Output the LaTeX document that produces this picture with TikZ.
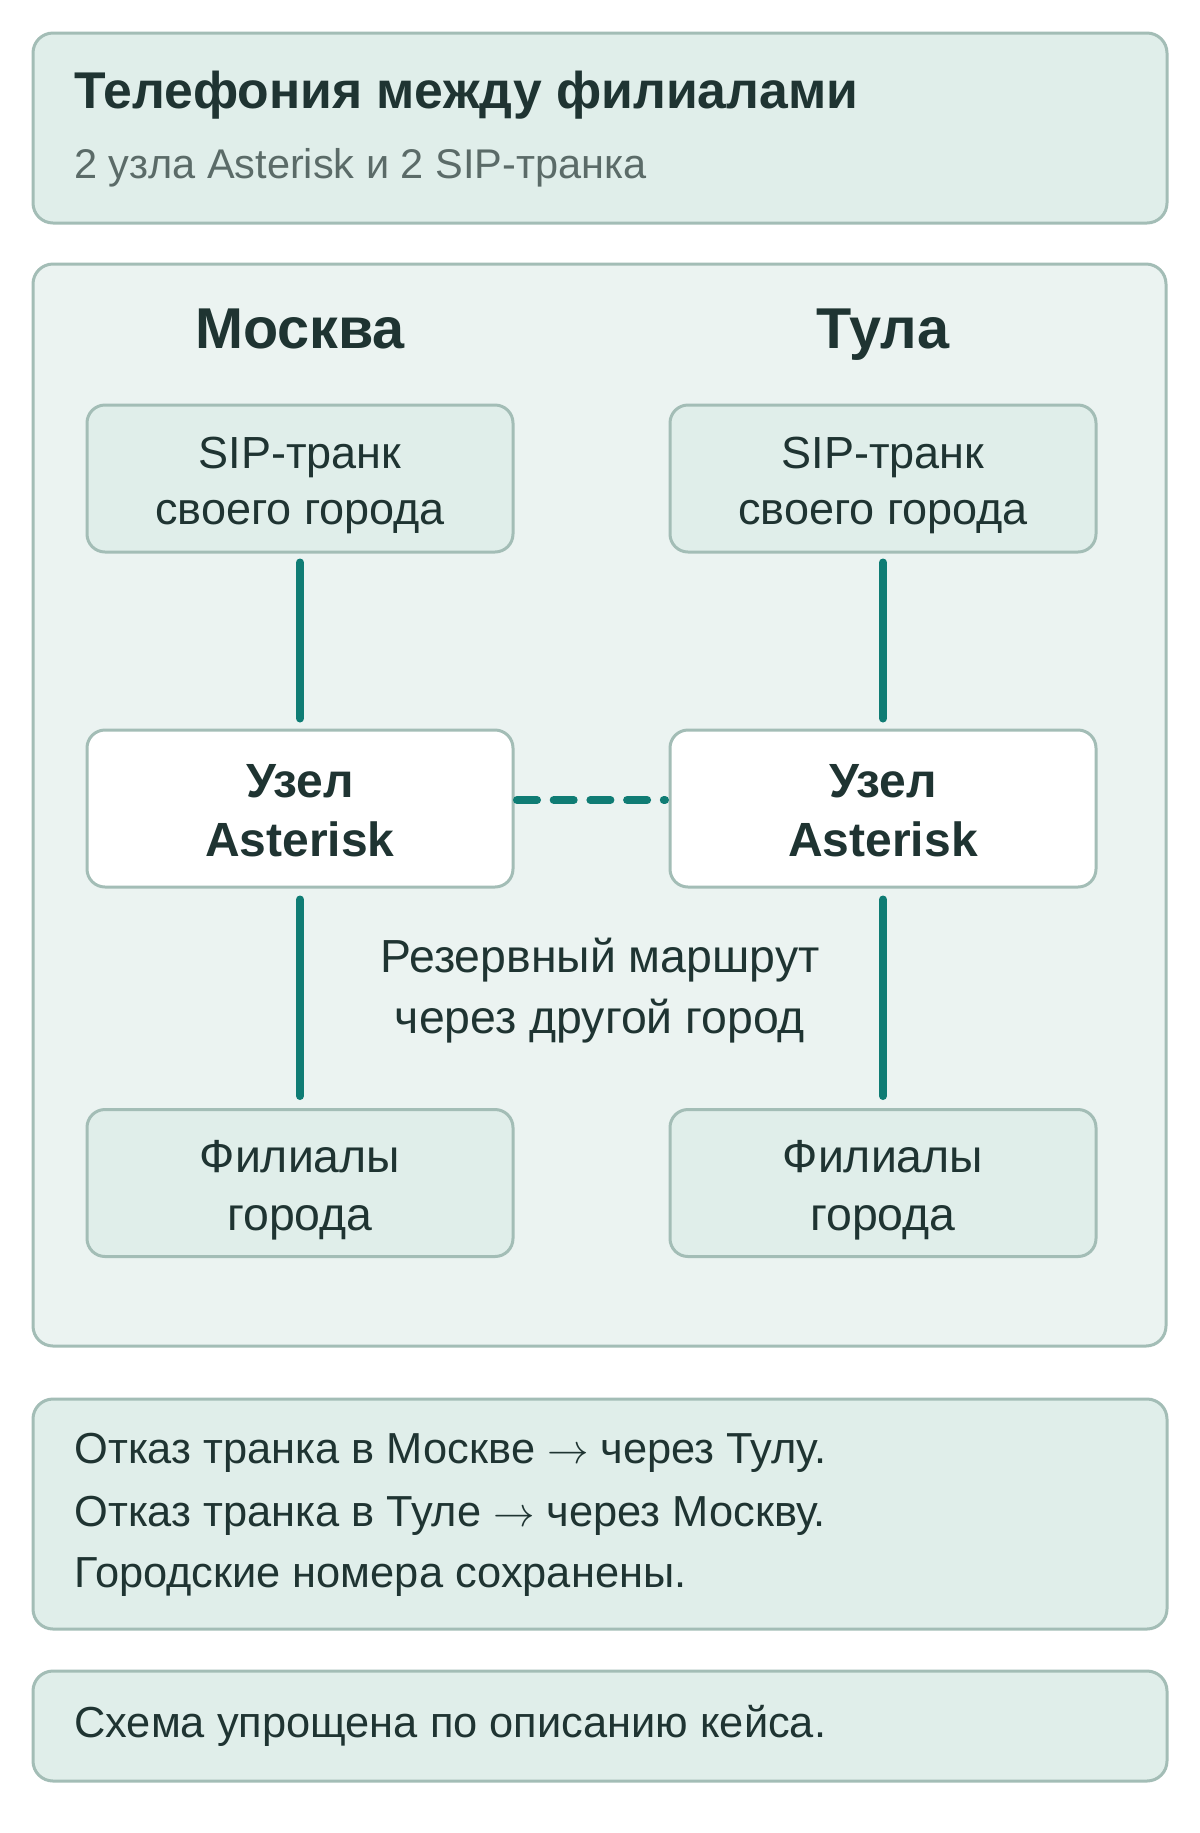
\documentclass[tikz,border=0pt]{standalone}
\usepackage{fontspec}
\setmainfont{Liberation Sans}
\definecolor{outerfill}{HTML}{EBF3F1}
\definecolor{boxfill}{HTML}{E0EEEA}
\definecolor{boxline}{HTML}{A3BDB6}
\definecolor{ink}{HTML}{1F3432}
\definecolor{subink}{HTML}{5B6B68}
\definecolor{teal}{HTML}{0F7C74}
\begin{document}
\begin{tikzpicture}[x=0.5pt,y=-0.5pt,
  panel/.style={draw=boxline, line width=1.5pt, rounded corners=10pt, fill=boxfill},
  bigpanel/.style={draw=boxline, line width=1.5pt, rounded corners=10pt, fill=outerfill},
  cardbox/.style={draw=boxline, line width=1.5pt, rounded corners=9pt, fill=boxfill, minimum width=213pt, minimum height=73.5pt, inner sep=0pt},
  hubbox/.style={draw=boxline, line width=1.5pt, rounded corners=9pt, fill=white, minimum width=213pt, minimum height=78.5pt, inner sep=0pt},
  txt/.style={inner sep=0pt, anchor=base, text=ink, font=\fontsize{22.5pt}{26pt}\selectfont},
  wtxt/.style={inner sep=0pt, anchor=base, text=ink, font=\fontsize{23.2pt}{27pt}\selectfont},
  hubtxt/.style={inner sep=0pt, anchor=base, text=ink, font=\fontsize{24pt}{28pt}\selectfont\bfseries},
  city/.style={inner sep=0pt, anchor=base, text=ink, font=\fontsize{28.8pt}{34pt}\selectfont\bfseries},
  ltxt/.style={inner sep=0pt, anchor=base west, text=ink, font=\fontsize{21.7pt}{26pt}\selectfont},
  link/.style={draw=teal, line width=4pt, line cap=round},
  backup/.style={draw=teal, line width=4pt, line cap=round, dash pattern=on 10pt off 8.35pt}
]
\path[use as bounding box, fill=white] (0,0) rectangle (1200,1833);

% header panel
\path[panel] (33,33) rectangle (1167,223);
\node[inner sep=0pt, anchor=base west, text=ink, font=\fontsize{25.85pt}{30pt}\selectfont\bfseries] (title) at (74,108) {Телефония между филиалами};
\node[inner sep=0pt, anchor=base west, text=subink, font=\fontsize{20.75pt}{24pt}\selectfont] (subtitle) at (74,178) {2 узла Asterisk и 2 SIP-транка};

% main panel
\path[bigpanel] (33,264) rectangle (1166,1346);
\node[city] (cityM) at (300,348) {Москва};
\node[city] (cityT) at (883,348) {Тула};

\node[cardbox] (sipM) at (300,478.5) {};
\node[cardbox] (sipT) at (883,478.5) {};
\node[hubbox] (astM) at (300,808.5) {};
\node[hubbox] (astT) at (883,808.5) {};
\node[cardbox] (brM) at (300,1183) {};
\node[cardbox] (brT) at (883,1183) {};

\node[txt] (sipM1) at (300,468) {SIP-транк};
\node[txt] (sipM2) at (300,524) {своего города};
\node[txt] (sipT1) at (883,468) {SIP-транк};
\node[txt] (sipT2) at (883,524) {своего города};

\node[hubtxt] (astM1) at (300,797) {Узел};
\node[hubtxt] (astM2) at (300,856) {Asterisk};
\node[hubtxt] (astT1) at (883,797) {Узел};
\node[hubtxt] (astT2) at (883,856) {Asterisk};

\node[wtxt] (brM1) at (300,1172) {Филиалы};
\node[wtxt] (brM2) at (300,1230) {города};
\node[wtxt] (brT1) at (883,1172) {Филиалы};
\node[wtxt] (brT2) at (883,1230) {города};

\node[wtxt] (res1) at (600,972) {Резервный маршрут};
\node[wtxt] (res2) at (600,1033) {через другой город};

% connectors
\draw[link, shorten <=4.5pt, shorten >=5pt] (sipM.south) -- (astM.north);
\draw[link, shorten <=4.5pt, shorten >=5pt] (sipT.south) -- (astT.north);
\draw[link, shorten <=5.5pt, shorten >=6pt] (astM.south) -- (brM.north);
\draw[link, shorten <=5.5pt, shorten >=6pt] (astT.south) -- (brT.north);
\draw[backup, shorten <=1.25pt, shorten >=1.75pt] ([yshift=4.25pt]astM.east) -- ([yshift=4.25pt]astT.west);

% notes
\path[panel] (33,1399) rectangle (1167,1629);
\node[ltxt] (note1) at (74,1463) {Отказ транка в Москве $\rightarrow$ через Тулу.};
\node[ltxt] (note2) at (74,1526) {Отказ транка в Туле $\rightarrow$ через Москву.};
\node[ltxt] (note3) at (74,1587) {Городские номера сохранены.};

\path[panel] (33,1671) rectangle (1167,1781);
\node[ltxt] (foot) at (74,1737) {Схема упрощена по описанию кейса.};
\end{tikzpicture}
\end{document}
